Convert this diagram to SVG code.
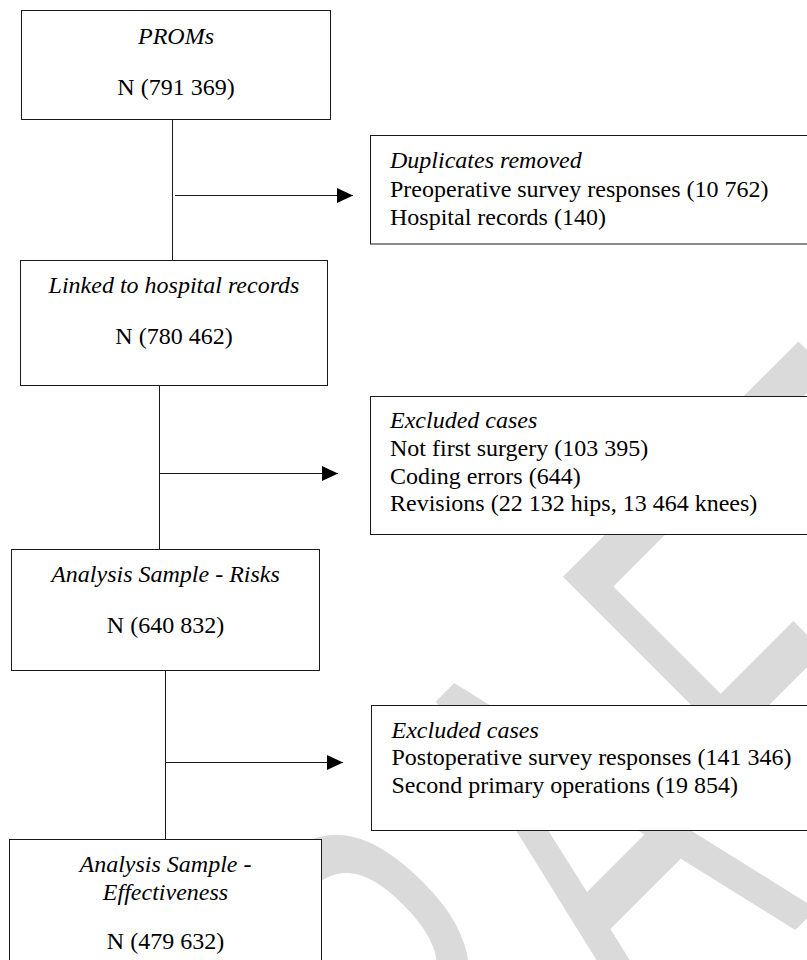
<svg xmlns="http://www.w3.org/2000/svg" width="807" height="960" viewBox="0 0 807 960">
  <defs>
    <marker id="ah" markerWidth="16" markerHeight="15" refX="16" refY="7.5" orient="auto" markerUnits="userSpaceOnUse">
      <path d="M0,0 L16,7.5 L0,15 z" fill="#000"/>
    </marker>
    <style>
      .box { fill: #fff; stroke: #1a1a1a; stroke-width: 1; }
      .t { font-family: "Liberation Serif", "Times New Roman", serif; font-size: 24px; fill: #000; }
      .c { text-anchor: middle; }
      .i { font-style: italic; }
      .ln { stroke: #1a1a1a; stroke-width: 1; fill: none; }
      .wm { font-family: "Open Sans", "Liberation Sans", sans-serif; font-size: 580px; fill: #dadada; }
    </style>
  </defs>
  <rect width="807" height="960" fill="#fff"/>
  <g id="watermark">
    <text class="wm" transform="rotate(-45) scale(0.6 1)" x="-1278 -860 -475 -73 225" y="1220">DRAFT</text>
  </g>

  <g id="connectors">
    <line class="ln" x1="172.5" y1="119.5" x2="172.5" y2="260.5"/>
    <line class="ln" x1="175" y1="195.5" x2="353" y2="195.5" marker-end="url(#ah)"/>
    <line class="ln" x1="159.5" y1="385.5" x2="159.5" y2="549.5"/>
    <line class="ln" x1="160" y1="473.5" x2="338" y2="473.5" marker-end="url(#ah)"/>
    <line class="ln" x1="165.5" y1="670.5" x2="165.5" y2="839.5"/>
    <line class="ln" x1="166" y1="762.5" x2="343" y2="762.5" marker-end="url(#ah)"/>
  </g>

  <g id="proms">
    <rect class="box" x="21.5" y="10.5" width="309" height="109"/>
    <text class="t c i" x="176" y="43.5">PROMs</text>
    <text class="t c" x="176" y="94.5">N (791 369)</text>
  </g>

  <g id="duplicates">
    <rect class="box" x="370.5" y="135.5" width="440" height="108.5"/>
    <text class="t i" x="390" y="168">Duplicates removed</text>
    <text class="t" x="390" y="196.5">Preoperative survey responses (10 762)</text>
    <text class="t" x="390" y="224.5">Hospital records (140)</text>
  </g>

  <g id="linked">
    <rect class="box" x="20.5" y="260.5" width="307" height="125"/>
    <text class="t c i" x="174" y="293">Linked to hospital records</text>
    <text class="t c" x="174" y="343.5">N (780 462)</text>
  </g>

  <g id="excluded1">
    <rect class="box" x="370.5" y="396.5" width="440" height="138"/>
    <text class="t i" x="390" y="428">Excluded cases</text>
    <text class="t" x="390" y="455.5">Not first surgery (103 395)</text>
    <text class="t" x="390" y="483.5">Coding errors (644)</text>
    <text class="t" x="390" y="511">Revisions (22 132 hips, 13 464 knees)</text>
  </g>

  <g id="risks">
    <rect class="box" x="11.5" y="549.5" width="308" height="121"/>
    <text class="t c i" x="165.5" y="582">Analysis Sample - Risks</text>
    <text class="t c" x="165.5" y="632.5">N (640 832)</text>
  </g>

  <g id="excluded2">
    <rect class="box" x="371.5" y="705.5" width="440" height="125"/>
    <text class="t i" x="391.5" y="737.5">Excluded cases</text>
    <text class="t" x="391.5" y="765">Postoperative survey responses (141 346)</text>
    <text class="t" x="391.5" y="792.5">Second primary operations (19 854)</text>
  </g>

  <g id="effectiveness">
    <rect class="box" x="9.5" y="839.5" width="312" height="130"/>
    <text class="t c i" x="165.5" y="872">Analysis Sample -</text>
    <text class="t c i" x="165.5" y="899.5">Effectiveness</text>
    <text class="t c" x="165.5" y="948.5">N (479 632)</text>
  </g>
</svg>
